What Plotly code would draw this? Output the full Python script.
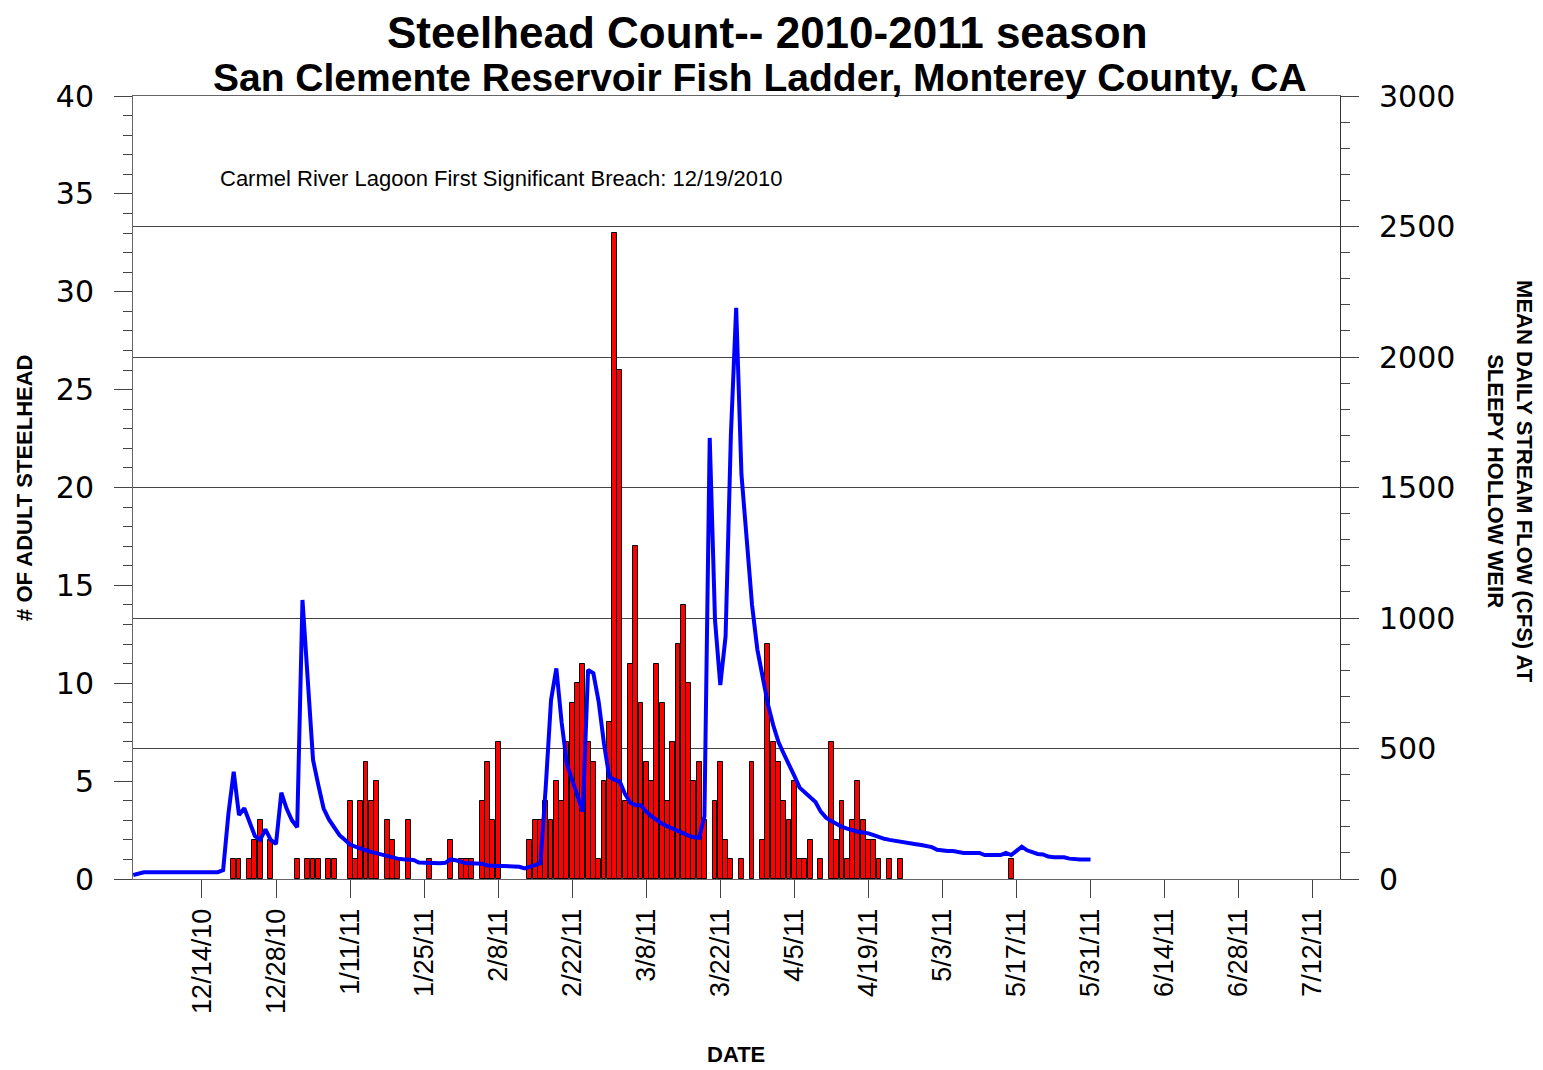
"""Steelhead count vs stream flow, 2010-2011 season"""
import plotly.graph_objs as go
import pandas as pd

# daily adult steelhead counts (days with no fish are left out)
fish_dates = [
    '2010-12-20', '2010-12-21', '2010-12-23', '2010-12-24', '2010-12-25', '2010-12-27',
    '2011-01-01', '2011-01-03', '2011-01-04', '2011-01-05', '2011-01-07', '2011-01-08',
    '2011-01-11', '2011-01-12', '2011-01-13', '2011-01-14', '2011-01-15', '2011-01-16',
    '2011-01-18', '2011-01-19', '2011-01-20', '2011-01-22', '2011-01-26', '2011-01-30',
    '2011-02-01', '2011-02-02', '2011-02-03', '2011-02-05', '2011-02-06', '2011-02-07',
    '2011-02-08', '2011-02-14', '2011-02-15', '2011-02-16', '2011-02-17', '2011-02-18',
    '2011-02-19', '2011-02-20', '2011-02-21', '2011-02-22', '2011-02-23', '2011-02-24',
    '2011-02-25', '2011-02-26', '2011-02-27', '2011-02-28',
    '2011-03-01', '2011-03-02', '2011-03-03', '2011-03-04', '2011-03-05', '2011-03-06',
    '2011-03-07', '2011-03-08', '2011-03-09', '2011-03-10', '2011-03-11', '2011-03-12',
    '2011-03-13', '2011-03-14', '2011-03-15', '2011-03-16', '2011-03-17', '2011-03-18',
    '2011-03-19', '2011-03-21', '2011-03-22', '2011-03-23', '2011-03-24', '2011-03-26',
    '2011-03-28', '2011-03-30', '2011-03-31',
    '2011-04-01', '2011-04-02', '2011-04-03', '2011-04-04', '2011-04-05', '2011-04-06',
    '2011-04-07', '2011-04-08', '2011-04-10', '2011-04-12', '2011-04-13', '2011-04-14',
    '2011-04-15', '2011-04-16', '2011-04-17', '2011-04-18', '2011-04-19', '2011-04-20',
    '2011-04-21', '2011-04-23', '2011-04-25',
    '2011-05-16',
]
fish_counts = [
    1, 1, 1, 2, 3, 2,
    1, 1, 1, 1, 1, 1,
    4, 1, 4, 6, 4, 5,
    3, 2, 1, 3, 1, 2,
    1, 1, 1, 4, 6, 3,
    7, 2, 3, 3, 4, 3,
    5, 4, 7, 9, 10, 11,
    7, 6, 1, 5,
    8, 33, 26, 4, 11, 17,
    9, 6, 5, 11, 9, 4,
    7, 12, 14, 10, 5, 6,
    3, 4, 6, 2, 1, 1,
    6, 2, 12,
    7, 6, 4, 3, 5, 1,
    1, 2, 1, 7, 2, 4,
    1, 3, 5, 3, 2, 2,
    1, 1, 1,
    1,
]

# mean daily flow (cfs) at Sleepy Hollow weir, 12/1/10 - 5/31/11
flow_dec = [15, 20, 26, 26, 26, 26, 26, 26, 26, 26, 26, 26, 26, 26, 26, 26, 26,
            34, 250, 411, 245, 271, 215, 165, 150, 190, 150, 134, 331, 270, 225]
flow_jan = [198, 1069, 760, 456, 360, 270, 228, 195, 168, 150, 132, 124, 115, 110,
            104, 98, 92, 86, 82, 78, 76, 74, 73, 63, 62, 62, 60, 60, 62, 75, 72]
flow_feb = [66, 60, 60, 60, 58, 52, 50, 50, 50, 50, 50, 47, 41, 46, 54, 60,
            354, 686, 807, 600, 440, 378, 318, 258, 801, 788, 680, 520]
flow_mar = [392, 380, 373, 325, 292, 283, 283, 258, 240, 225, 212, 202, 192, 183,
            173, 166, 160, 158, 240, 1690, 992, 743, 930, 1700, 2188, 1550, 1300,
            1050, 880, 770, 670]
flow_apr = [590, 525, 480, 440, 395, 350, 332, 315, 295, 258, 235, 222, 210, 200,
            193, 185, 181, 178, 175, 168, 160, 154, 150, 146, 143, 140, 136, 133,
            130, 126]
flow_may = [122, 112, 108, 107, 107, 103, 100, 100, 100, 100, 92, 92, 92, 92, 100,
            92, 108, 124, 110, 102, 96, 94, 86, 83, 83, 83, 78, 75, 75, 75, 75]

x_tick_dates = ['2010-12-14', '2010-12-28', '2011-01-11', '2011-01-25', '2011-02-08',
                '2011-02-22', '2011-03-08', '2011-03-22', '2011-04-05', '2011-04-19',
                '2011-05-03', '2011-05-17', '2011-05-31', '2011-06-14', '2011-06-28',
                '2011-07-12']
x_tick_text = ['12/14/10', '12/28/10', '1/11/11', '1/25/11', '2/8/11', '2/22/11',
               '3/8/11', '3/22/11', '4/5/11', '4/19/11', '5/3/11', '5/17/11',
               '5/31/11', '6/14/11', '6/28/11', '7/12/11']

flow = flow_dec + flow_jan + flow_feb + flow_mar + flow_apr + flow_may
flow_dates = pd.date_range('2010-12-01', periods=len(flow), freq='D')

FONT = 'Liberation Sans, Arial, sans-serif'
NUM_FONT = 'DejaVu Sans, Verdana, sans-serif'
DAY_MS = 86400000

data = list()

data.append(go.Bar(
    x=pd.to_datetime(fish_dates),
    y=fish_counts,
    width=DAY_MS * 0.92,
    marker=dict(color='#ff0000', line=dict(color='black', width=1)),
    yaxis='y',
    showlegend=False
))

data.append(go.Scatter(
    x=flow_dates,
    y=flow,
    mode='lines',
    line=dict(color='#0000ff', width=4),
    yaxis='y2',
    showlegend=False
))

# the page body has an 8px margin, so the figure is 8px smaller than the window
layout = go.Layout(
    width=1535,
    height=1062,
    paper_bgcolor='white',
    plot_bgcolor='white',
    margin=dict(l=125, r=203, t=88, b=191),
    font=dict(family=FONT, color='black'),
    bargap=0,

    xaxis=dict(
        type='date',
        range=['2010-11-30 23:00', '2011-07-17 04:00'],
        tickvals=pd.to_datetime(x_tick_dates),
        ticktext=x_tick_text,
        tickangle=-90,
        tickfont=dict(size=27, family=FONT),
        ticks='outside',
        ticklen=18,
        tickcolor='#444',
        showline=True,
        linecolor='#666',
        linewidth=1,
        mirror=True,
        showgrid=False,
        zeroline=False
    ),

    yaxis=dict(
        range=[0, 40],
        dtick=5,
        tickfont=dict(size=30, family=NUM_FONT),
        ticks='outside',
        ticklen=18,
        tickcolor='#444',
        ticklabelstandoff=14,
        minor=dict(dtick=1, ticks='outside', ticklen=9, tickcolor='#444'),
        showline=True,
        linecolor='#666',
        showgrid=False,
        zeroline=False
    ),

    yaxis2=dict(
        overlaying='y',
        side='right',
        range=[0, 3000],
        dtick=500,
        tickfont=dict(size=30, family=NUM_FONT),
        ticks='outside',
        ticklen=18,
        tickcolor='#444',
        ticklabelstandoff=14,
        minor=dict(dtick=100, ticks='outside', ticklen=9, tickcolor='#444'),
        showline=True,
        linecolor='#333',
        showgrid=True,
        gridcolor='#444',
        gridwidth=1,
        zeroline=False
    ),

    annotations=[
        dict(text='<b>Steelhead Count-- 2010-2011 season</b>',
             xref='paper', yref='paper', x=0.526, y=1.0817,
             xanchor='center', yanchor='middle', showarrow=False,
             font=dict(size=44, family=FONT)),
        dict(text='<b>San Clemente Reservoir Fish Ladder, Monterey County, CA</b>',
             xref='paper', yref='paper', x=0.5195, y=1.023,
             xanchor='center', yanchor='middle', showarrow=False,
             font=dict(size=39, family=FONT)),
        dict(text='Carmel River Lagoon First Significant Breach: 12/19/2010',
             xref='paper', yref='paper', x=0.0704, y=0.894,
             xanchor='left', yanchor='middle', showarrow=False,
             font=dict(size=22, family=FONT)),
        dict(text='<b># OF ADULT STEELHEAD</b>',
             xref='paper', yref='paper', x=-0.0895, y=0.4994,
             xanchor='center', yanchor='middle', showarrow=False,
             textangle=-90, font=dict(size=22, family=FONT)),
        dict(text='<b>MEAN DAILY STREAM FLOW (CFS) AT<br>SLEEPY HOLLOW WEIR</b>',
             xref='paper', yref='paper', x=1.1408, y=0.507,
             xanchor='center', yanchor='middle', showarrow=False,
             textangle=90, font=dict(size=22, family=FONT)),
        dict(text='<b>DATE</b>',
             xref='paper', yref='paper', x=0.4996, y=-0.2245,
             xanchor='center', yanchor='middle', showarrow=False,
             font=dict(size=22, family=FONT)),
    ]
)

fig = go.Figure(data=data, layout=layout)

fig.write_html('out.html')
